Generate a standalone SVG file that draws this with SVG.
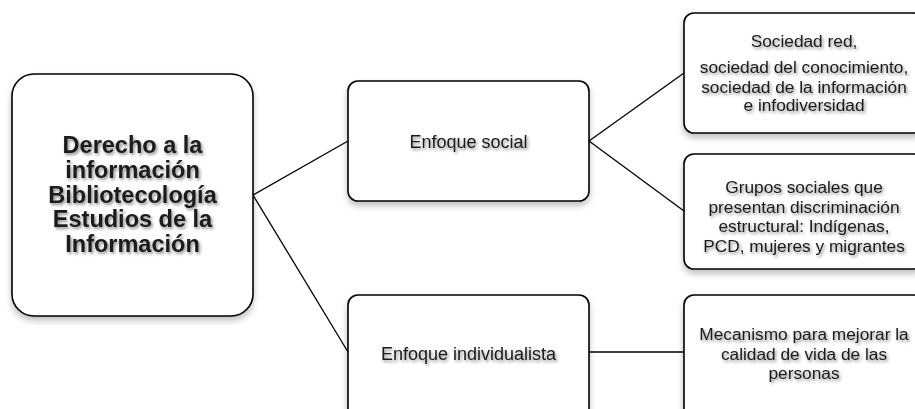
<svg xmlns="http://www.w3.org/2000/svg" width="915" height="409" viewBox="0 0 915 409">
  <defs>
    <filter id="boxShadow" x="-10%" y="-10%" width="130%" height="130%">
      <feDropShadow dx="0" dy="4" stdDeviation="3" flood-color="#000" flood-opacity="0.25"/>
    </filter>
    <filter id="textShadow" x="-10%" y="-30%" width="130%" height="180%">
      <feDropShadow dx="1.5" dy="2" stdDeviation="1.5" flood-color="#000" flood-opacity="0.45"/>
    </filter>
  </defs>
  <style>
    .box { fill: #ffffff; stroke: #000000; stroke-width: 1.6; filter: url(#boxShadow); }
    .link { fill: none; stroke: #000000; stroke-width: 1.3; }
    .t { font-family: "Liberation Sans", Arial, sans-serif; font-size: 18px; fill: #1a1a1a; text-anchor: middle; filter: url(#textShadow); }
    .s { font-size: 17.3px; }
    .tb { font-weight: bold; font-size: 23.5px; }
  </style>
  <rect width="915" height="409" fill="#ffffff"/>

  <g id="connectors">
    <line class="link" x1="253" y1="195" x2="348" y2="141"/>
    <line class="link" x1="253" y1="195" x2="348" y2="352"/>
    <line class="link" x1="589" y1="141" x2="684" y2="73"/>
    <line class="link" x1="589" y1="141" x2="684" y2="211"/>
    <line class="link" x1="589" y1="352" x2="684" y2="352"/>
  </g>

  <g id="root">
    <rect class="box" x="12" y="74" width="241" height="242" rx="22"/>
    <text class="t tb" x="132.5" y="153">Derecho a la</text>
    <text class="t tb" x="132.5" y="178">información</text>
    <text class="t tb" x="132.5" y="202.5">Bibliotecología</text>
    <text class="t tb" x="132.5" y="227">Estudios de la</text>
    <text class="t tb" x="132.5" y="252">Información</text>
  </g>

  <g id="enfoque-social">
    <rect class="box" x="348" y="81" width="241" height="120" rx="10"/>
    <text class="t" x="468.5" y="148">Enfoque social</text>
  </g>

  <g id="enfoque-individualista">
    <rect class="box" x="348" y="295" width="241" height="125" rx="10"/>
    <text class="t" x="468.5" y="360">Enfoque individualista</text>
  </g>

  <g id="sociedad">
    <rect class="box" x="684" y="13" width="240" height="120" rx="10"/>
    <text class="t s" x="804" y="47">Sociedad red,</text>
    <text class="t s" x="804" y="73">sociedad del conocimiento,</text>
    <text class="t s" x="804" y="92.5">sociedad de la información</text>
    <text class="t s" x="804" y="111">e infodiversidad</text>
  </g>

  <g id="grupos">
    <rect class="box" x="684" y="154" width="240" height="115" rx="10"/>
    <text class="t s" x="804" y="193">Grupos sociales que</text>
    <text class="t s" x="804" y="212.5">presentan discriminación</text>
    <text class="t s" x="804" y="232">estructural: Indígenas,</text>
    <text class="t s" x="804" y="251.5">PCD, mujeres y migrantes</text>
  </g>

  <g id="mecanismo">
    <rect class="box" x="684" y="295" width="240" height="125" rx="10"/>
    <text class="t s" x="804" y="340">Mecanismo para mejorar la</text>
    <text class="t s" x="804" y="359.5">calidad de vida de las</text>
    <text class="t s" x="804" y="379">personas</text>
  </g>
</svg>
